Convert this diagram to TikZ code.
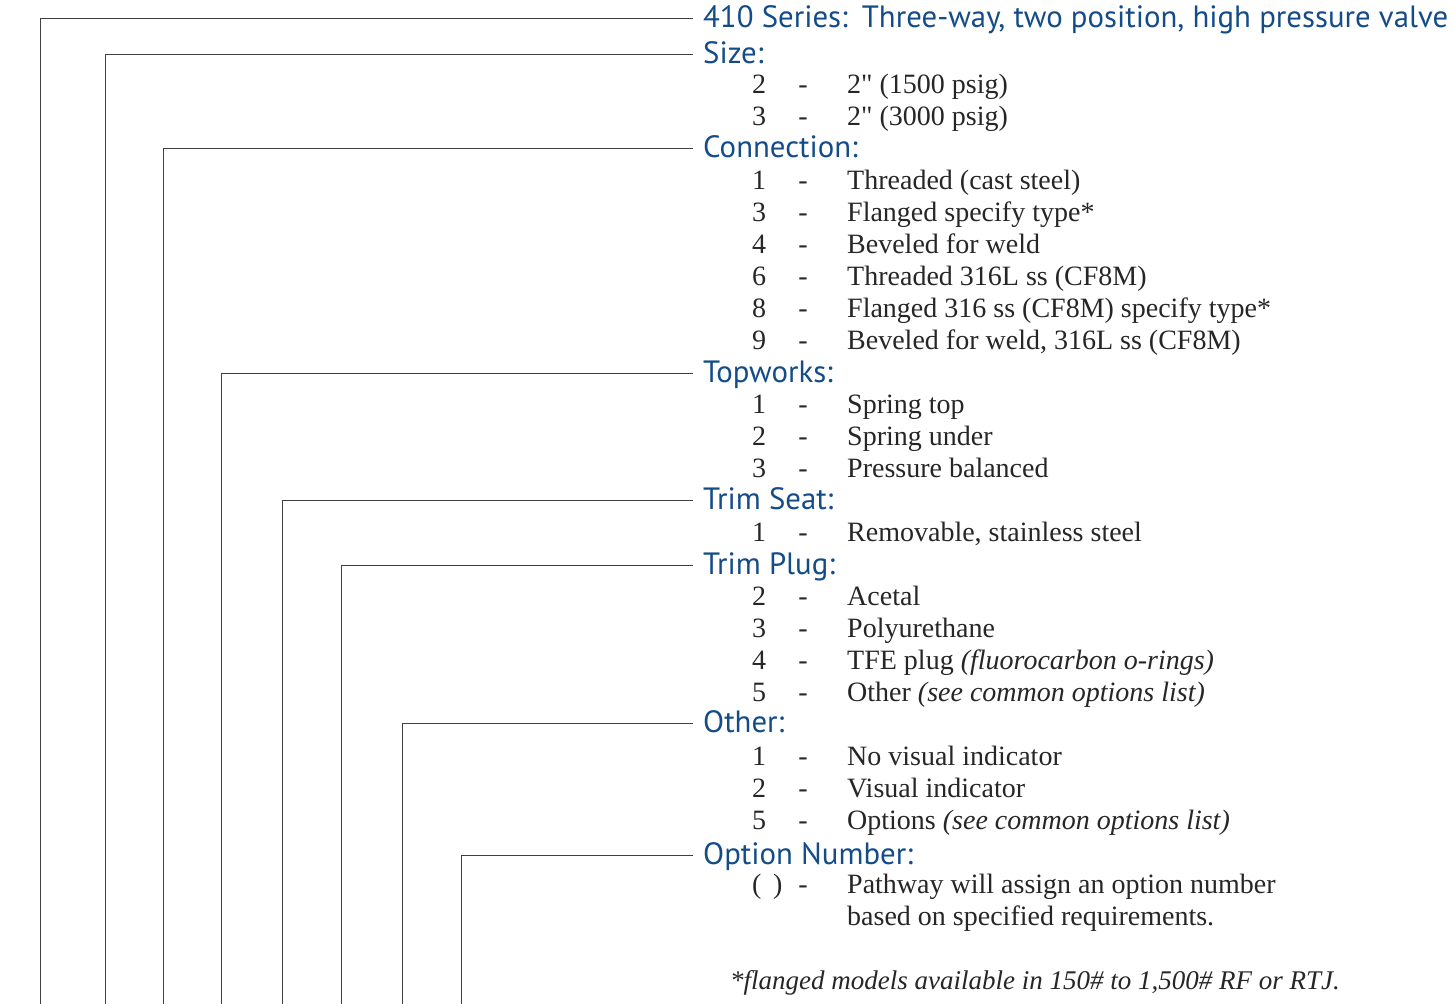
\documentclass[tikz,border=0pt]{standalone}
\usepackage{fontspec}
\setmainfont{Liberation Serif}
\newfontfamily\headfont{PT Sans}
\usetikzlibrary{positioning}
\definecolor{pathblue}{RGB}{20,76,136}

\begin{document}
\begin{tikzpicture}[x=1pt,y=-1pt,
    head/.style={anchor=base west,inner xsep=10pt,inner ysep=0pt,
      text height=18pt,text depth=0pt,text=pathblue,
      font=\headfont\fontsize{30.8}{33}\selectfont},
    body/.style={anchor=base west,inner sep=0pt,text=black!85,
      font=\fontsize{28}{32}\selectfont},
    wire/.style={draw=black!75,line width=1pt}]
    \useasboundingbox (0,0) rectangle (1454,1004);

    % headings
    \node[head] (series) at (693,27)  {410 Series:\hspace{14pt}Three-way, two position, high pressure valve};
    \node[head] (size)   at (693,63)  {Size:};
    \node[head] (conn)   at (693,157) {Connection:};
    \node[head] (top)    at (693,382) {Topworks:};
    \node[head] (seat)   at (693,509) {Trim Seat:};
    \node[head] (plug)   at (693,574) {Trim Plug:};
    \node[head] (other)  at (693,732) {Other:};
    \node[head] (optnum) at (693,864) {Option Number:};

    % leader lines
    \foreach \name/\xx in {series/40,size/105,conn/163,top/221,seat/282,plug/341,other/402,optnum/461}{
      \coordinate (\name-foot) at (\xx,1004);
      \draw[wire] (\name-foot) |- (\name.west);
    }

    % option codes
    \foreach \yy/\code/\desc [count=\i] in {
        93/2/{2\textquotedbl{} (1500 psig)}, 125/3/{2\textquotedbl{} (3000 psig)},
        189/1/{Threaded (cast steel)}, 221/3/{Flanged specify type*},
        253/4/{Beveled for weld}, 285/6/{Threaded 316L ss (CF8M)},
        317/8/{Flanged 316 ss (CF8M) specify type*},
        349/9/{Beveled for weld, 316L ss (CF8M)},
        413/1/{Spring top}, 445/2/{Spring under}, 477/3/{Pressure balanced},
        541/1/{Removable, stainless steel},
        605/2/{Acetal}, 637/3/{Polyurethane},
        669/4/{TFE plug \textit{(fluorocarbon o-rings)}},
        701/5/{Other \textit{(see common options list)}},
        765/1/{No visual indicator}, 797/2/{Visual indicator},
        829/5/{Options \textit{(see common options list)}},
        893/{(\,\ )}/{Pathway will assign an option number}}{
      \node[body] (code\i) at (752,\yy) {\code};
      \node[body,anchor=base] (dash\i) at (803,\yy) {-};
      \node[body] (desc\i) at (847,\yy) {\desc};
    }
    \node[body] (desc-more) at (847,925) {based on specified requirements.};

    % footnote
    \node[body,font=\itshape\fontsize{27}{32}\selectfont] (foot) at (730,989)
      {*flanged models available in 150\# to 1,500\# RF or RTJ.};
\end{tikzpicture}
\end{document}
